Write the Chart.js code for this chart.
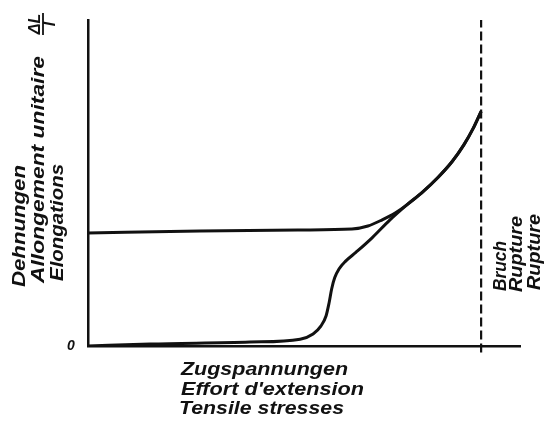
<!DOCTYPE html>
<html>
<head>
<meta charset="utf-8">
<script src="https://cdn.jsdelivr.net/npm/chart.js@4.4.1/dist/chart.umd.min.js"></script>
<style>
    html, body { margin: 0; padding: 0; background: #fff; }
    #wrap { width: 547px; height: 421px; position: relative; }
</style>
</head>
<body>
<div id="wrap"><canvas id="chart"></canvas></div>
<script>
// Stress / elongation sketch, both axes in arbitrary units 0..100

// First loading: flat, sudden yield, then hardening up to rupture
const lowerX = [0, 14.4, 37.5, 49.1, 52.1, 53.9, 55.1, 55.8, 56.4, 57.1, 58.1, 59.7, 62.0, 65.7, 69.9, 73.8, 77.5, 81.0, 84.3, 87.0, 89.1, 91.0];
const lowerY = [0, 0.6, 1.2, 2.1, 3.7, 6.1, 9.2, 13.2, 17.5, 20.9, 23.6, 26.1, 28.7, 33.1, 38.7, 43.3, 47.3, 51.7, 56.6, 61.7, 66.6, 72.0];

// Reloading: starts from the permanent elongation and joins the first curve
const upperX = [0, 25.9, 49.1, 61.1, 64.8, 68.1, 71.1, 73.8, 77.5, 81.0, 84.3, 87.0, 89.1, 91.0];
const upperY = [34.7, 35.3, 35.6, 35.9, 36.8, 38.7, 40.8, 43.3, 47.3, 51.7, 56.6, 61.7, 66.6, 72.0];

// Rupture marker
const ruptureX = [91.0, 91.0];
const ruptureY = [-2, 100];

// Texts
const xTitleLines = ['Zugspannungen', "Effort d'extension", 'Tensile stresses'];
const yTitleLines = ['Dehnungen', 'Allongement unitaire', 'Elongations'];
const ruptureLines = ['Bruch', 'Rupture', 'Rupture'];
const originLabel = '0';
const fractionTop = '\u0394L';
const fractionBottom = 'l';

const ink = '#111';
const labelFont = 'italic bold 18px "Liberation Sans"';

function toPoints(xs, ys) {
    return xs.map((x, i) => ({ x: x, y: ys[i] }));
}

// draw text stretched/squeezed to a given length, optionally rotated
function drawFitted(ctx, text, x, y, length, angle) {
    ctx.save();
    ctx.translate(x, y);
    ctx.rotate(angle);
    const w = ctx.measureText(text).width;
    ctx.scale(length / w, 1);
    ctx.fillText(text, 0, 0);
    ctx.restore();
}

const labelsPlugin = {
    id: 'sketchLabels',
    afterDraw(chart) {
        const ctx = chart.ctx;
        const area = chart.chartArea;
        const up = -Math.PI / 2;
        ctx.save();
        ctx.fillStyle = ink;
        ctx.strokeStyle = ink;
        ctx.textAlign = 'left';
        ctx.textBaseline = 'alphabetic';

        // origin
        ctx.font = 'italic bold 14px "Liberation Sans"';
        ctx.textAlign = 'center';
        ctx.textBaseline = 'middle';
        ctx.fillText(originLabel, area.left - 17, area.bottom);
        ctx.textAlign = 'left';
        ctx.textBaseline = 'alphabetic';

        // x axis title
        ctx.font = labelFont;
        const xLen = [167, 183, 165];
        const xShift = [93, 93, 91];
        xTitleLines.forEach((t, i) => {
            drawFitted(ctx, t, area.left + xShift[i], area.bottom + 29 + i * 19.5, xLen[i], 0);
        });

        // y axis title, reading upwards
        ctx.font = 'italic bold 19px "Liberation Sans"';
        const yBase = [25, 44, 63];
        const yStart = [287, 283, 281];
        const yLen = [122, 227, 117];
        yTitleLines.forEach((t, i) => {
            drawFitted(ctx, t, yBase[i], yStart[i], yLen[i], up);
        });

        // dL / l
        ctx.save();
        ctx.translate(43, area.top + 4);
        ctx.rotate(up);
        ctx.font = 'italic bold 16px "Liberation Sans"';
        ctx.textAlign = 'center';
        ctx.fillText(fractionTop, 0, -3);
        ctx.fillText(fractionBottom, 0, 12);
        ctx.lineWidth = 1.8;
        ctx.beginPath();
        ctx.moveTo(-11, 0);
        ctx.lineTo(11, 0);
        ctx.stroke();
        ctx.restore();

        // rupture label beside the dashed line
        const xr = chart.scales.x.getPixelForValue(ruptureX[0]);
        const rBase = [25, 41, 59];
        const rStart = [291, 292, 290];
        const rLen = [50, 76, 76];
        ctx.font = labelFont;
        ruptureLines.forEach((t, i) => {
            drawFitted(ctx, t, xr + rBase[i], rStart[i], rLen[i], up);
        });

        ctx.restore();
    }
};

const ctx = document.getElementById('chart');

new Chart(ctx, {
    type: 'line',
    data: {
        datasets: [
            {
                label: 'first loading',
                data: toPoints(lowerX, lowerY),
                borderColor: ink,
                borderWidth: 3,
                pointRadius: 0,
                cubicInterpolationMode: 'monotone'
            },
            {
                label: 'reloading',
                data: toPoints(upperX, upperY),
                borderColor: ink,
                borderWidth: 3,
                pointRadius: 0,
                cubicInterpolationMode: 'monotone'
            },
            {
                label: 'rupture',
                data: toPoints(ruptureX, ruptureY),
                borderColor: ink,
                borderWidth: 2.2,
                borderDash: [9, 4],
                pointRadius: 0,
                clip: false
            }
        ]
    },
    options: {
        responsive: true,
        maintainAspectRatio: false,
        animation: false,
        layout: {
            padding: { left: 88, right: 27, top: 20, bottom: 75 }
        },
        plugins: {
            legend: { display: false },
            tooltip: { enabled: false }
        },
        scales: {
            x: {
                type: 'linear',
                min: 0,
                max: 100,
                ticks: { display: false },
                grid: { display: false, drawTicks: false },
                border: { display: true, color: ink, width: 2.5 }
            },
            y: {
                type: 'linear',
                min: 0,
                max: 100,
                ticks: { display: false },
                grid: { display: false, drawTicks: false },
                border: { display: true, color: ink, width: 2.5 }
            }
        }
    },
    plugins: [labelsPlugin]
});
</script>
</body>
</html>
